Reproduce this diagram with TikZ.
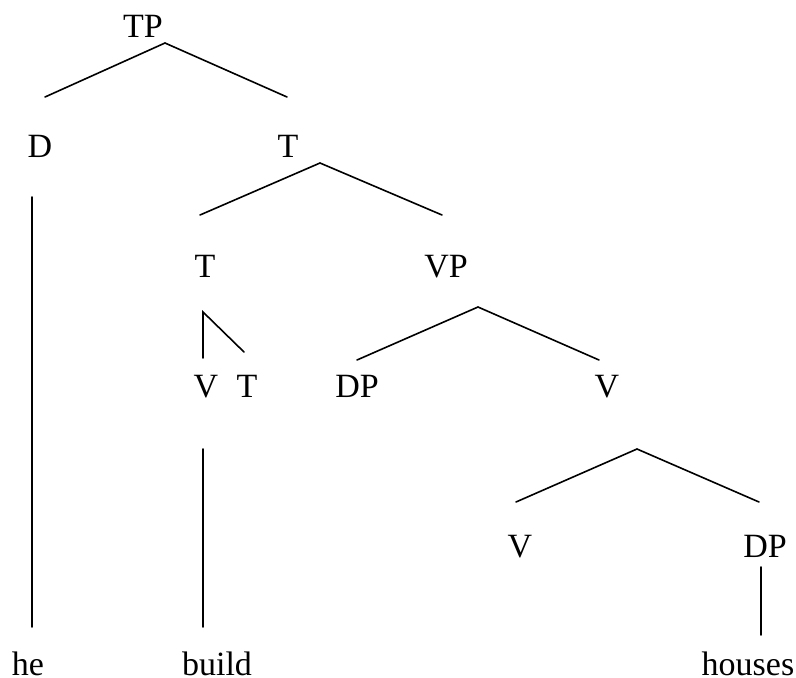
\documentclass[tikz,border=0pt]{standalone}
\usepackage{fontspec}
\setmainfont{Liberation Serif}
\usepackage{tikz}

\tikzset{
  cat/.style={anchor=base,inner sep=0pt,font=\fontsize{34}{40}\selectfont},
  branch/.style={line width=1.6pt,line cap=round}
}

\begin{document}
\begin{tikzpicture}[x=1pt,y=-1pt]
  \useasboundingbox (0,0) rectangle (796,678);
  % category labels
  \node[cat] (TP) at (143,37) {TP};
  \node[cat] (D) at (40,157) {D};
  \node[cat] (Tbar) at (288,157) {T};
  \node[cat] (T) at (205,277) {T};
  \node[cat] (VP) at (446,277) {VP};
  \node[cat] (Vhead) at (206,397) {V};
  \node[cat] (Thead) at (247,397) {T};
  \node[cat] (DPsubj) at (357,397) {DP};
  \node[cat] (Vbar) at (607,397) {V};
  \node[cat] (V) at (520,557) {V};
  \node[cat] (DPobj) at (765,557) {DP};
  % words
  \node[cat] (he) at (28,675) {he};
  \node[cat] (build) at (217,675) {build};
  \node[cat] (houses) at (748,675) {houses};
  % branch points
  \coordinate (TP-a) at (165,43);
  \coordinate (D-u) at (45,97);
  \coordinate (Tbar-u) at (287,97);
  \coordinate (Tbar-a) at (320,163);
  \coordinate (T-u) at (200,215);
  \coordinate (VP-u) at (442,215);
  \coordinate (T-a) at (203,312);
  \coordinate (Vhead-u) at (203,358);
  \coordinate (Thead-u) at (244,352);
  \coordinate (VP-a) at (478,307);
  \coordinate (DPsubj-u) at (357,360);
  \coordinate (Vbar-u) at (599,360);
  \coordinate (Vbar-a) at (637,449);
  \coordinate (V-u) at (516,502);
  \coordinate (DPobj-u) at (759,502);
  \coordinate (D-d) at (32,197);
  \coordinate (he-u) at (32,627);
  \coordinate (Vhead-d) at (203,449);
  \coordinate (build-u) at (203,627);
  \coordinate (DPobj-d) at (761,567);
  \coordinate (houses-u) at (761,635);
  % branches
  \draw[branch] (D-u) -- (TP-a) -- (Tbar-u);
  \draw[branch] (T-u) -- (Tbar-a) -- (VP-u);
  \draw[branch] (Vhead-u) -- (T-a) -- (Thead-u);
  \draw[branch] (DPsubj-u) -- (VP-a) -- (Vbar-u);
  \draw[branch] (V-u) -- (Vbar-a) -- (DPobj-u);
  \draw[branch] (D-d) -- (he-u);
  \draw[branch] (Vhead-d) -- (build-u);
  \draw[branch] (DPobj-d) -- (houses-u);
\end{tikzpicture}
\end{document}
